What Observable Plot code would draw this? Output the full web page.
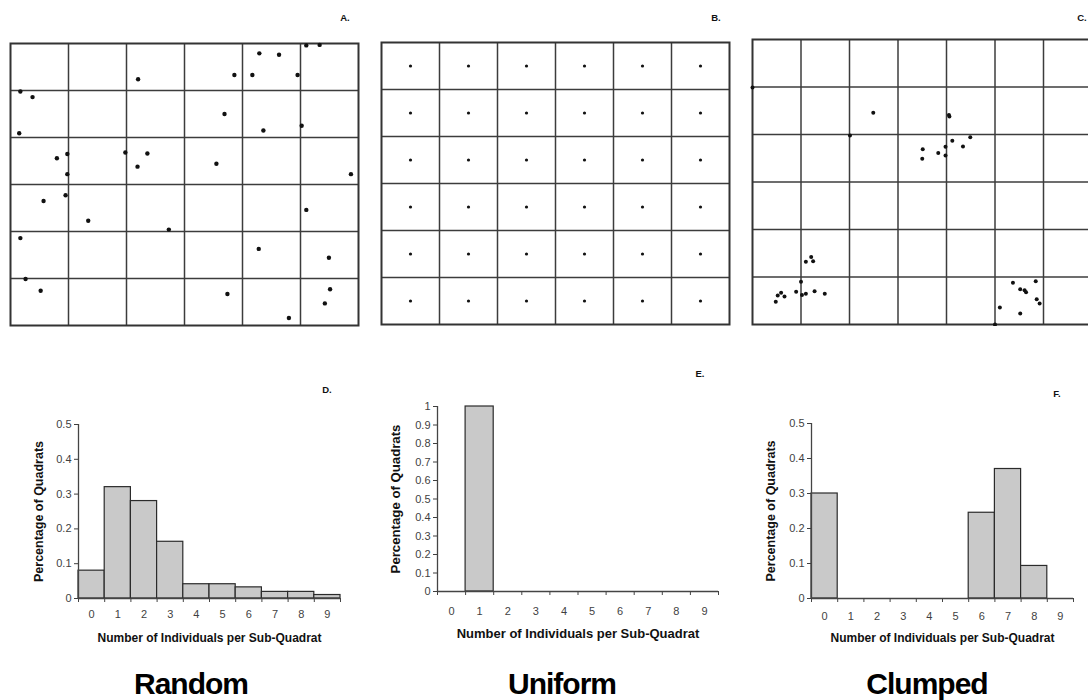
<!DOCTYPE html>
<html>
<head>
<meta charset="utf-8">
<script src="https://cdn.jsdelivr.net/npm/d3@7"></script>
<script src="https://cdn.jsdelivr.net/npm/@observablehq/plot@0.6"></script>
<style>
  html, body { margin: 0; padding: 0; background: #fff; }
  #root { position: relative; width: 1088px; height: 700px; overflow: hidden; background: #fff;
          font-family: "Liberation Sans", Arial, sans-serif; }
  .panel { position: absolute; }
  .panel svg { max-width: none !important; background: transparent !important; }
  .letter { position: absolute; font-weight: bold; font-size: 9.5px; color: #111; transform: translate(-50%, -50%); }
  .title { position: absolute; font-weight: bold; font-size: 30px; letter-spacing: -1px; color: #000; transform: translate(-50%, -50%); white-space: nowrap; }
</style>
</head>
<body>
<div id="root"></div>
<script>
// ---------- Data ----------
// Panel A (random): positions in sub-quadrat units (x from left, y from top)
const randomX = [5.10, 5.33, 4.29, 4.63, 2.20, 3.86, 4.17, 4.95, 0.17, 0.38, 3.69, 0.15, 4.36, 5.02,
                 0.80, 0.98, 1.98, 2.36, 2.19, 0.98, 3.55, 5.87, 0.57, 0.95, 1.34, 2.73, 5.10, 0.17,
                 4.28, 5.49, 0.26, 0.52, 3.74, 5.51, 5.42, 4.80];
const randomY = [0.04, 0.03, 0.21, 0.24, 0.76, 0.67, 0.67, 0.67, 1.02, 1.14, 1.50, 1.91, 1.85, 1.75,
                 2.44, 2.35, 2.32, 2.34, 2.62, 2.78, 2.56, 2.78, 3.35, 3.23, 3.77, 3.96, 3.54, 4.14,
                 4.37, 4.56, 5.01, 5.26, 5.33, 5.23, 5.53, 5.84];
// Panel B (uniform): one individual at the centre of every sub-quadrat
const uniformCols = [0.5, 1.5, 2.5, 3.5, 4.5, 5.5];
const uniformRows = [0.5, 1.5, 2.5, 3.5, 4.5, 5.5];
// Panel C (clumped)
const clumpedX = [0.00, 2.49, 2.01, 4.05, 4.06, 4.12, 4.49, 4.34, 3.98, 3.98, 3.83, 3.51, 3.50,
                  1.21, 1.10, 1.25, 1.00, 0.59, 0.52, 0.66, 0.48, 0.90, 1.02, 1.10, 1.28, 1.49,
                  5.37, 5.84, 5.52, 5.61, 5.64, 5.86, 5.92, 5.10, 5.52, 5.00];
const clumpedY = [1.01, 1.54, 2.02, 1.59, 1.62, 2.13, 2.06, 2.25, 2.26, 2.44, 2.39, 2.31, 2.51,
                  4.58, 4.68, 4.67, 5.10, 5.33, 5.39, 5.41, 5.52, 5.31, 5.38, 5.35, 5.30, 5.35,
                  5.12, 5.09, 5.26, 5.28, 5.32, 5.47, 5.56, 5.64, 5.77, 6.00];
const gridLines6 = [1, 2, 3, 4, 5];
const gridLines7 = [1, 2, 3, 4, 5, 6];

// Histograms
const countLabels = ["0", "1", "2", "3", "4", "5", "6", "7", "8", "9"];
const randomFreq  = [0.08, 0.32, 0.28, 0.163, 0.041, 0.041, 0.032, 0.019, 0.019, 0.01];
const uniformFreq = [0, 1, 0, 0, 0, 0, 0, 0, 0, 0];
const clumpedFreq = [0.30, 0, 0, 0, 0, 0, 0.245, 0.37, 0.093, 0];
const yTicksHalf = [0, 0.1, 0.2, 0.3, 0.4, 0.5];
const yTicksOne  = [0, 0.1, 0.2, 0.3, 0.4, 0.5, 0.6, 0.7, 0.8, 0.9, 1];

const panelLetters = ["A.", "B.", "C.", "D.", "E.", "F."];
const patternTitles = ["Random", "Uniform", "Clumped"];
const yLabel = "Percentage of Quadrats";
const xLabel = "Number of Individuals per Sub-Quadrat";

// ---------- Helpers ----------
const root = document.getElementById("root");
const FONT = "'Liberation Sans', Arial, sans-serif";

function place(el, left, top, width) {
  const d = document.createElement("div");
  d.className = "panel";
  d.style.left = left + "px";
  d.style.top = top + "px";
  d.style.width = width + "px";
  d.appendChild(el);
  root.appendChild(d);
}

function quadrat(points, cols, gridX, r, w, h) {
  return Plot.plot({
    width: w + 4, height: h + 4, margin: 2,
    style: {background: "transparent", maxWidth: "none", fontFamily: FONT},
    x: {domain: [0, cols], axis: null},
    y: {domain: [0, 6], reverse: true, axis: null},
    marks: [
      Plot.ruleX(gridX, {stroke: "#3c3c3c", strokeWidth: 1.5}),
      Plot.ruleY(gridLines6, {stroke: "#3c3c3c", strokeWidth: 1.5}),
      Plot.frame({stroke: "#333", strokeWidth: 2}),
      Plot.dot(points, {x: "x", y: "y", r, fill: "#111", stroke: "none"})
    ]
  });
}

const MT = 40; // top margin of histogram plots
function histogram(freq, yTicks, opt) {
  const data = freq.map((v, i) => ({bin: i, v}));
  return Plot.plot({
    width: opt.w + 58, height: opt.h + MT + 50,
    marginLeft: 50, marginRight: 8, marginTop: MT, marginBottom: 50,
    style: {background: "transparent", maxWidth: "none", fontFamily: FONT, fontSize: "11px", color: "#444"},
    x: {domain: [0, 10], axis: null},
    y: {domain: [0, yTicks[yTicks.length - 1]], axis: null},
    marks: [
      Plot.rectY(data.filter(d => d.v > 0), {x1: d => d.bin, x2: d => d.bin + 1, y: "v",
        fill: "#c9c9c9", stroke: "#2b2b2b", strokeWidth: 1.2}),
      Plot.ruleX([0], {stroke: "#444", strokeWidth: 1.3}),
      Plot.ruleY([0], {stroke: "#444", strokeWidth: 1.3}),
      Plot.axisY({ticks: yTicks, tickSize: 4, tickPadding: 3, tickFormat: d => String(d),
        label: null, color: "#3f3f3f", fontSize: 11}),
      Plot.axisX({ticks: d3.range(0, 11), tickSize: 4, tickFormat: () => "", label: null, color: "#444"}),
      Plot.axisX({ticks: countLabels.map((c, i) => i + 0.5), tickSize: 0, tickPadding: opt.tickPad,
        tickFormat: d => countLabels[Math.floor(d)], label: null, color: "#3f3f3f", fontSize: 11}),
      Plot.text([yLabel], {text: d => d, frameAnchor: "left", textAnchor: "middle", lineAnchor: "middle",
        dx: -opt.yLabOff, rotate: -90, fontWeight: "bold", fontSize: opt.yLabSize, fill: "#111"}),
      Plot.text([xLabel], {text: d => d, frameAnchor: "bottom", textAnchor: "middle", lineAnchor: "middle",
        dy: opt.xLabOff, fontWeight: "bold", fontSize: opt.xLabSize, fill: "#111"})
    ]
  });
}

// ---------- Quadrat maps ----------
const ptsA = randomX.map((x, i) => ({x, y: randomY[i]}));
const ptsB = d3.cross(uniformCols, uniformRows).map(([x, y]) => ({x, y}));
const ptsC = clumpedX.map((x, i) => ({x, y: clumpedY[i]}));

place(quadrat(ptsA, 6, gridLines6, 2.2, 348, 282), 8, 40.5, 352);
place(quadrat(ptsB, 6, gridLines6, 1.6, 348, 282), 379, 40.3, 352);
place(quadrat(ptsC, 7, gridLines7, 2.0, 339.5, 285), 750.3, 37.3, 343.5);

// ---------- Histograms ----------
place(histogram(randomFreq, yTicksHalf, {w: 262, h: 174, tickPad: 12, xLabOff: 40, yLabOff: 40,
  yLabSize: 12.5, xLabSize: 12}), 28, 424 - MT, 320);
place(histogram(uniformFreq, yTicksOne, {w: 281, h: 185, tickPad: 16, xLabOff: 42, yLabOff: 42,
  yLabSize: 13.2, xLabSize: 13}), 387, 406 - MT, 339);
place(histogram(clumpedFreq, yTicksHalf, {w: 262, h: 175, tickPad: 14, xLabOff: 40, yLabOff: 41,
  yLabSize: 12.5, xLabSize: 12}), 761, 423 - MT, 320);

// ---------- Letters & titles ----------
const letterPos = [[345, 17], [716, 17], [1082, 17], [327, 389], [700, 373], [1057, 393]];
panelLetters.forEach((t, i) => {
  const d = document.createElement("div");
  d.className = "letter";
  d.textContent = t;
  d.style.left = letterPos[i][0] + "px";
  d.style.top = letterPos[i][1] + "px";
  root.appendChild(d);
});
const titlePos = [[191, 684], [562, 684], [927, 684]];
patternTitles.forEach((t, i) => {
  const d = document.createElement("div");
  d.className = "title";
  d.textContent = t;
  d.style.left = titlePos[i][0] + "px";
  d.style.top = titlePos[i][1] + "px";
  root.appendChild(d);
});
</script>
</body>
</html>
